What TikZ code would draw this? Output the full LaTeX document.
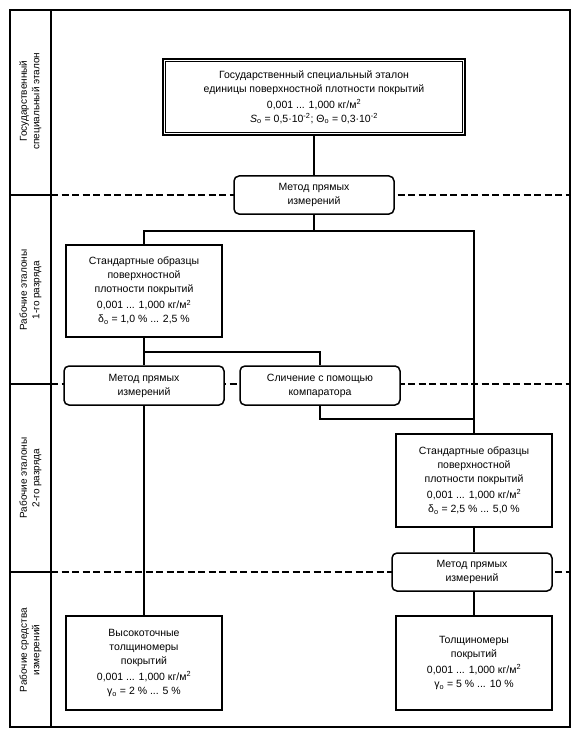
\documentclass[tikz,border=0pt]{standalone}
\usepackage{fontspec}
\setmainfont{Liberation Sans}
\begin{document}
\begin{tikzpicture}[x=1pt,y=-1pt,
  frameline/.style={line width=1.5pt},
  sepline/.style={line width=1.2pt, dash pattern=on 7pt off 3.5pt},
  conn/.style={line width=1.5pt},
  txt/.style={font=\fontsize{10.5}{14}\selectfont, align=center},
  box/.style={txt, draw, line width=1.5pt, fill=white, inner sep=2pt},
  rbox/.style={box, rounded corners=5pt},
  lbl/.style={txt, rotate=90, font=\fontsize{10}{12.5}\selectfont}]
\useasboundingbox (0,0) rectangle (579,738);
% frame
\draw[frameline] (10,10) rectangle (570,727);
\draw[frameline] (51,10) -- (51,727);
\foreach \yy in {195,384,572} {
  \draw[frameline] (10,\yy) -- (51,\yy);
  \draw[sepline] (51,\yy) -- (570,\yy);
}
% column labels
\node[lbl] (l1) at (30.5,101) {Государственный\\специальный эталон};
\node[lbl] (l2) at (30.5,290) {Рабочие эталоны\\1-го разряда};
\node[lbl] (l3) at (30.5,478) {Рабочие эталоны\\2-го разряда};
\node[lbl] (l4) at (30.5,650) {Рабочие средства\\измерений};
% boxes
\node[box, line width=2pt, minimum width=302pt, minimum height=76pt] (top) at (314,97)
  {Государственный специальный эталон\\единицы поверхностной плотности покрытий\\[2pt]
   0,001 ... 1,000 кг/м\textsuperscript{2}\\
   \textit{S}\textsubscript{о} = 0,5·10\textsuperscript{-2}; Θ\textsubscript{о} = 0,3·10\textsuperscript{-2}};
\draw[line width=0.8pt] ([shift={(3.2,3.2)}]top.north west) rectangle ([shift={(-3.2,-3.2)}]top.south east);
\node[rbox, minimum width=160pt, minimum height=38pt] (m1) at (314,195) {Метод прямых\\измерений};
\node[box, minimum width=156pt, minimum height=92pt] (s1) at (144,291)
  {Стандартные образцы\\поверхностной\\плотности покрытий\\[2pt]
   0,001 ... 1,000 кг/м\textsuperscript{2}\\δ\textsubscript{о} = 1,0 \% ... 2,5 \%};
\node[rbox, minimum width=160pt, minimum height=39pt] (m2) at (144,385.5) {Метод прямых\\измерений};
\node[rbox, minimum width=160pt, minimum height=39pt] (cmp) at (320,385.5) {Сличение с помощью\\компаратора};
\node[box, minimum width=156pt, minimum height=93pt] (s2) at (474,480.5)
  {Стандартные образцы\\поверхностной\\плотности покрытий\\[2pt]
   0,001 ... 1,000 кг/м\textsuperscript{2}\\δ\textsubscript{о} = 2,5 \% ... 5,0 \%};
\node[rbox, minimum width=160pt, minimum height=38pt] (m3) at (472,572) {Метод прямых\\измерений};
\node[box, minimum width=156pt, minimum height=94pt] (hi) at (144,663)
  {Высокоточные\\толщиномеры\\покрытий\\[2pt]
   0,001 ... 1,000 кг/м\textsuperscript{2}\\γ\textsubscript{о} = 2 \% ... 5 \%};
\node[box, minimum width=156pt, minimum height=94pt] (th) at (474,663)
  {Толщиномеры\\покрытий\\[2pt]
   0,001 ... 1,000 кг/м\textsuperscript{2}\\γ\textsubscript{о} = 5 \% ... 10 \%};
% connectors
\coordinate (j1) at (314,231);
\coordinate (j2) at (144,352);
\coordinate (j3) at (474,419);
\draw[conn] (top.south) -- (m1.north);
\draw[conn] (m1.south) -- (j1);
\draw[conn] (s1.north) |- (j1) -| (s2.north);
\draw[conn] (s1.south) -- (j2);
\draw[conn] (m2.north) |- (j2) -| (cmp.north);
\draw[conn] (m2.south) -- (hi.north);
\draw[conn] (cmp.south) |- (j3);
\draw[conn] (s2.south) -- (s2.south |- m3.north);
\draw[conn] (th.north |- m3.south) -- (th.north);
\end{tikzpicture}
\end{document}
